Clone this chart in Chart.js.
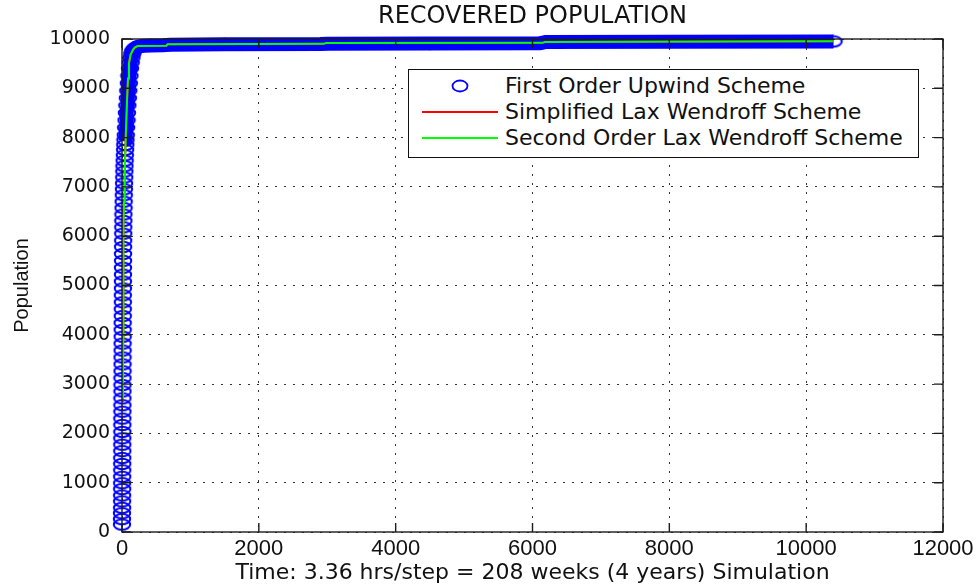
<!DOCTYPE html>
<html>
<head>
<meta charset="utf-8">
<title>Recovered Population</title>
<script src="https://cdn.jsdelivr.net/npm/chart.js@4.4.1/dist/chart.umd.min.js"></script>
<style>
  html, body { margin: 0; padding: 0; background: #fff; }
  #wrap { position: relative; width: 980px; height: 588px; }
  #legendBox { position: absolute; left: 408px; top: 69px; width: 511px; height: 89px; box-sizing: border-box;
               border: 1px solid #111; background: #fff; padding-top: 3px; }
  .legRow { position: relative; height: 26px; }
  .legRow svg { position: absolute; left: 0; top: 0; }
  .legRow span { position: absolute; left: 96px; top: 0; line-height: 26px; white-space: nowrap;
                 font: 22px 'DejaVu Sans', sans-serif; color: #111; }
</style>
</head>
<body>
<div id="wrap">
  <canvas id="recoveredChart" width="980" height="588"></canvas>
  <div id="legendBox"></div>
</div>
<script>
'use strict';
/* ---------------------------------------------------------------- DATA */
const chartTitle = 'RECOVERED POPULATION';
const xTickValues = [0, 2000, 4000, 6000, 8000, 10000, 12000];
const yTickValues = [0, 1000, 2000, 3000, 4000, 5000, 6000, 7000, 8000, 9000, 10000];

const legendLabels = ['First Order Upwind Scheme', 'Simplified Lax Wendroff Scheme', 'Second Order Lax Wendroff Scheme'];

// first order upwind (time step, recovered)
const upwindTime = [0, 0, 0, 1, 1, 1, 2, 2, 2, 3, 3, 3, 4, 4, 4, 5, 5, 5, 6, 6,
  6, 7, 7, 7, 8, 8, 8, 9, 9, 10, 10, 10, 11, 11, 12, 12, 13, 13, 14, 14,
  15, 15, 16, 17, 18, 19, 20, 21, 22, 24, 26, 28, 30, 32, 34, 36, 39, 42, 45, 48,
  51, 55, 60, 66, 72, 78, 85, 92, 100, 108, 117, 127, 138, 150, 165, 185, 210, 250, 320, 420,
  600, 700, 1500, 2900, 3000, 4500, 6100, 6200, 8000, 10400];
const upwindPop = [150, 260, 380, 490, 620, 740, 870, 990, 1120, 1250, 1380, 1500, 1640, 1770, 1900, 2030, 2170, 2300, 2440, 2570,
  2710, 2850, 2980, 3120, 3260, 3400, 3540, 3680, 3820, 3960, 4100, 4240, 4380, 4520, 4660, 4800, 4940, 5080, 5220, 5360,
  5500, 5640, 5780, 5910, 6050, 6180, 6310, 6440, 6570, 6700, 6830, 6950, 7070, 7190, 7310, 7420, 7530, 7640, 7750, 7850,
  7950, 8050, 8200, 8350, 8500, 8650, 8800, 8950, 9100, 9250, 9400, 9520, 9620, 9700, 9760, 9800, 9830, 9850, 9862, 9870,
  9875, 9882, 9892, 9898, 9905, 9908, 9912, 9940, 9945, 9950];

// simplified lax wendroff
const simpleLwTime = [13, 17, 19, 21, 23, 30, 40, 50, 62, 75, 88, 100, 125, 160, 190, 230, 650, 665, 2950, 2980, 6150, 6180, 10390];
const simpleLwPop = [2640, 3900, 5000, 5800, 6300, 6700, 7300, 7800, 8300, 8800, 9200, 9520, 9680, 9780, 9830, 9858, 9862, 9896, 9902, 9918, 9922, 9945, 9952];

// second order lax wendroff
const secondLwTime = [14, 17, 19, 21, 23, 30, 40, 50, 62, 75, 88, 102, 125, 160, 190, 230, 650, 665, 2950, 2980, 6150, 6180, 10390];
const secondLwPop = [2700, 3900, 5000, 5800, 6250, 6700, 7300, 7800, 8300, 8800, 9200, 9500, 9680, 9780, 9830, 9858, 9862, 9896, 9902, 9918, 9922, 9940, 9952];

/* ---------------------------------------------------------------- HELPERS */
function toPoints(xs, ys){
  return xs.map((t, i) => ({x: t, y: ys[i]}));
}

function makeOvalMarker(){
  const c = document.createElement('canvas');
  c.width = 20;
  c.height = 14;
  const g = c.getContext('2d');
  g.strokeStyle = '#0000ff';
  g.lineWidth = 2;
  g.beginPath();
  g.ellipse(10, 7, 8.2, 5.2, 0, 0, Math.PI * 2);
  g.stroke();
  return c;
}
//matlab 'o' markers look squashed in the picture, so an oval canvas is used as pointStyle

const ovalMarker = makeOvalMarker();

/* ---------------------------------------------------------------- PLUGINS */
const axisBoxPlugin = {
  id: 'axisBox',
  afterDatasetsDraw(chart){
    const {ctx, chartArea: a, scales: {x, y}} = chart;
    ctx.save();
    ctx.strokeStyle = '#1c1c1c';
    ctx.lineWidth = 1.4;
    ctx.beginPath();
    for (const v of xTickValues){
      const px = x.getPixelForValue(v);
      ctx.moveTo(px, a.bottom); ctx.lineTo(px, a.bottom - 9);
      ctx.moveTo(px, a.top); ctx.lineTo(px, a.top + 9);
    }
    for (const v of yTickValues){
      const py = y.getPixelForValue(v);
      ctx.moveTo(a.left, py); ctx.lineTo(a.left + 9, py);
      ctx.moveTo(a.right, py); ctx.lineTo(a.right - 9, py);
    }
    ctx.stroke();
    ctx.strokeRect(a.left, a.top, a.right - a.left, a.bottom - a.top);

    // title centred over the axes, not the whole canvas
    ctx.fillStyle = '#111';
    ctx.font = "24px 'DejaVu Sans', sans-serif";
    ctx.textAlign = 'center';
    ctx.textBaseline = 'middle';
    ctx.fillText(chartTitle, (a.left + a.right) / 2, 17);
    ctx.restore();
  }
};
//matlab draws the box and inward ticks over the data

/* ---------------------------------------------------------------- CHART */
const recoveredChart = new Chart(document.getElementById('recoveredChart'), {
  type: 'line',
  data: {
    datasets: [{
      label: legendLabels[0],
      data: toPoints(upwindTime, upwindPop),
      borderColor: '#0000ff',
      borderWidth: 14,
      borderJoinStyle: 'round',
      segment: {
        borderColor: ctx => ctx.p0.parsed.y < 7900 ? 'rgba(0,0,0,0)' : '#0000ff'
      },
      pointStyle: ovalMarker,
      pointRadius: 5,
      order: 3,
      clip: false
    }, {
      label: legendLabels[1],
      data: toPoints(simpleLwTime, simpleLwPop),
      borderColor: '#ff0000',
      borderWidth: 2,
      pointRadius: 0,
      order: 2,
      clip: false
    }, {
      label: legendLabels[2],
      data: toPoints(secondLwTime, secondLwPop),
      borderColor: '#00ff00',
      borderWidth: 2,
      pointRadius: 0,
      order: 1,
      clip: false
    }]
  },
  options: {
    responsive: false,
    animation: false,
    devicePixelRatio: 1,
    layout: { padding: { left: 0, right: 37, top: 39, bottom: 0 } },
    plugins: {
      legend: { display: false },
      tooltip: { enabled: false },
      title: { display: false }
    },
    scales: {
      x: {
        type: 'linear',
        min: 0,
        max: 12000,
        afterBuildTicks: scale => { scale.ticks = xTickValues.map(v => ({value: v})); },
        afterFit: scale => { scale.height = 56; },
        grid: { color: '#333', lineWidth: 1, drawTicks: false },
        border: { display: false, dash: [2, 7] },
        ticks: {
          padding: 4,
          color: '#111',
          maxRotation: 0,
          font: { family: "'Liberation Sans Narrow', 'Liberation Sans', sans-serif", size: 22 },
          callback: v => String(v)
        },
        title: {
          display: true,
          text: 'Time: 3.36 hrs/step = 208 weeks (4 years) Simulation',
          color: '#111',
          font: { family: "'DejaVu Sans', sans-serif", size: 22, lineHeight: 1 },
          padding: { top: 0, bottom: 4 }
        }
      },
      y: {
        type: 'linear',
        min: 0,
        max: 10000,
        afterBuildTicks: scale => { scale.ticks = yTickValues.map(v => ({value: v})); },
        afterFit: scale => { scale.width = 122; },
        grid: { color: '#333', lineWidth: 1, drawTicks: false },
        border: { display: false, dash: [2, 7] },
        ticks: {
          padding: 12,
          color: '#111',
          font: { family: "'DejaVu Sans', sans-serif", size: 19 },
          callback: v => String(v)
        },
        title: {
          display: true,
          text: 'Population',
          color: '#111',
          font: { family: "'Liberation Sans', sans-serif", size: 20 },
          padding: { top: 10, bottom: 0 }
        }
      }
    }
  },
  plugins: [axisBoxPlugin]
});

/* ---------------------------------------------------------------- LEGEND (html, boxed like matlab) */
function renderLegend(chart){
  const box = document.getElementById('legendBox');
  chart.data.datasets.forEach((ds, i) => {
    const row = document.createElement('div');
    row.className = 'legRow';
    const mark = i === 0
      ? '<ellipse cx="51" cy="13" rx="7.5" ry="5.5" fill="none" stroke="#0000ff" stroke-width="1.8"/>'
      : `<line x1="13" y1="13" x2="89" y2="13" stroke="${ds.borderColor}" stroke-width="2"/>`;
    row.innerHTML = `<svg width="96" height="26">${mark}</svg><span>${ds.label}</span>`;
    box.appendChild(row);
  });
}

renderLegend(recoveredChart);
</script>
</body>
</html>
